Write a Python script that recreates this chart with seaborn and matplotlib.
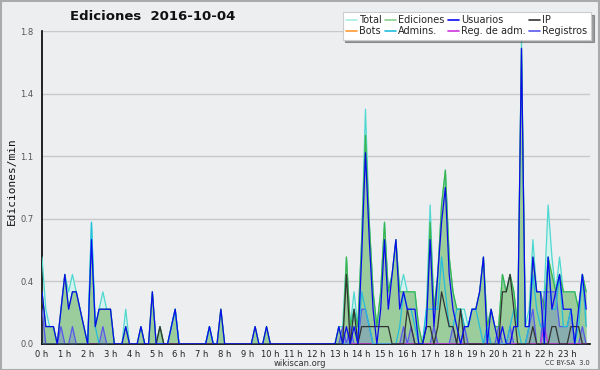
import numpy as np
import pandas as pd
import matplotlib
matplotlib.use("Agg")
import matplotlib.pyplot as plt
import seaborn as sns
from matplotlib.lines import Line2D

# edits per minute, one value per 10-minute slot, one row per hour (0 h .. 23 h)
total = [
    0.5, 0.2, 0.1, 0.1, 0.0, 0.2,
    0.4, 0.3, 0.4, 0.3, 0.2, 0.1,
    0.0, 0.7, 0.1, 0.2, 0.3, 0.2,
    0.2, 0.0, 0.0, 0.0, 0.2, 0.0,
    0.0, 0.0, 0.1, 0.0, 0.0, 0.3,
    0.0, 0.1, 0.0, 0.0, 0.1, 0.2,
    0.0, 0.0, 0.0, 0.0, 0.0, 0.0,
    0.0, 0.0, 0.1, 0.0, 0.0, 0.2,
    0.0, 0.0, 0.0, 0.0, 0.0, 0.0,
    0.0, 0.0, 0.1, 0.0, 0.0, 0.1,
    0.0, 0.0, 0.0, 0.0, 0.0, 0.0,
    0.0, 0.0, 0.0, 0.0, 0.0, 0.0,
    0.0, 0.0, 0.0, 0.0, 0.0, 0.0,
    0.1, 0.1, 0.5, 0.1, 0.3, 0.1,
    0.6, 1.35, 0.7, 0.3, 0.1, 0.3,
    0.7, 0.3, 0.4, 0.6, 0.3, 0.4,
    0.3, 0.3, 0.3, 0.0, 0.0, 0.2,
    0.8, 0.2, 0.4, 0.8, 1.0, 0.5,
    0.3, 0.2, 0.2, 0.2, 0.1, 0.2,
    0.2, 0.3, 0.5, 0.1, 0.2, 0.1,
    0.1, 0.4, 0.3, 0.4, 0.3, 0.1,
    1.75, 0.1, 0.2, 0.6, 0.3, 0.3,
    0.3, 0.8, 0.5, 0.3, 0.5, 0.3,
    0.3, 0.3, 0.3, 0.2, 0.4, 0.3,
]
ediciones = [
    0.3, 0.1, 0.1, 0.1, 0.0, 0.2,
    0.4, 0.2, 0.3, 0.3, 0.2, 0.1,
    0.0, 0.6, 0.1, 0.2, 0.2, 0.2,
    0.2, 0.0, 0.0, 0.0, 0.1, 0.0,
    0.0, 0.0, 0.1, 0.0, 0.0, 0.3,
    0.0, 0.1, 0.0, 0.0, 0.1, 0.2,
    0.0, 0.0, 0.0, 0.0, 0.0, 0.0,
    0.0, 0.0, 0.1, 0.0, 0.0, 0.2,
    0.0, 0.0, 0.0, 0.0, 0.0, 0.0,
    0.0, 0.0, 0.1, 0.0, 0.0, 0.1,
    0.0, 0.0, 0.0, 0.0, 0.0, 0.0,
    0.0, 0.0, 0.0, 0.0, 0.0, 0.0,
    0.0, 0.0, 0.0, 0.0, 0.0, 0.0,
    0.1, 0.0, 0.5, 0.1, 0.2, 0.1,
    0.6, 1.2, 0.7, 0.3, 0.1, 0.3,
    0.7, 0.3, 0.4, 0.6, 0.3, 0.3,
    0.3, 0.3, 0.3, 0.1, 0.0, 0.1,
    0.7, 0.2, 0.4, 0.8, 1.0, 0.5,
    0.3, 0.2, 0.2, 0.1, 0.1, 0.2,
    0.2, 0.3, 0.5, 0.1, 0.2, 0.1,
    0.1, 0.4, 0.3, 0.4, 0.3, 0.1,
    1.7, 0.1, 0.1, 0.5, 0.3, 0.3,
    0.2, 0.5, 0.4, 0.3, 0.4, 0.3,
    0.3, 0.3, 0.3, 0.2, 0.4, 0.3,
]
usuarios = [
    0.3, 0.1, 0.1, 0.1, 0.0, 0.2,
    0.4, 0.2, 0.3, 0.3, 0.2, 0.1,
    0.0, 0.6, 0.1, 0.2, 0.2, 0.2,
    0.2, 0.0, 0.0, 0.0, 0.1, 0.0,
    0.0, 0.0, 0.1, 0.0, 0.0, 0.3,
    0.0, 0.0, 0.0, 0.0, 0.1, 0.2,
    0.0, 0.0, 0.0, 0.0, 0.0, 0.0,
    0.0, 0.0, 0.1, 0.0, 0.0, 0.2,
    0.0, 0.0, 0.0, 0.0, 0.0, 0.0,
    0.0, 0.0, 0.1, 0.0, 0.0, 0.1,
    0.0, 0.0, 0.0, 0.0, 0.0, 0.0,
    0.0, 0.0, 0.0, 0.0, 0.0, 0.0,
    0.0, 0.0, 0.0, 0.0, 0.0, 0.0,
    0.1, 0.0, 0.1, 0.0, 0.1, 0.0,
    0.5, 1.1, 0.6, 0.2, 0.0, 0.2,
    0.6, 0.2, 0.4, 0.6, 0.2, 0.3,
    0.2, 0.2, 0.2, 0.0, 0.0, 0.1,
    0.6, 0.1, 0.4, 0.7, 0.9, 0.4,
    0.2, 0.1, 0.0, 0.1, 0.1, 0.2,
    0.2, 0.3, 0.5, 0.0, 0.2, 0.1,
    0.0, 0.1, 0.0, 0.0, 0.1, 0.1,
    1.7, 0.1, 0.1, 0.5, 0.3, 0.3,
    0.0, 0.5, 0.2, 0.3, 0.4, 0.2,
    0.2, 0.2, 0.0, 0.2, 0.4, 0.2,
]
ip = [
    0.0, 0.0, 0.0, 0.0, 0.0, 0.0,
    0.0, 0.0, 0.0, 0.0, 0.0, 0.0,
    0.0, 0.0, 0.0, 0.0, 0.0, 0.0,
    0.0, 0.0, 0.0, 0.0, 0.0, 0.0,
    0.0, 0.0, 0.0, 0.0, 0.0, 0.0,
    0.0, 0.1, 0.0, 0.0, 0.0, 0.0,
    0.0, 0.0, 0.0, 0.0, 0.0, 0.0,
    0.0, 0.0, 0.0, 0.0, 0.0, 0.0,
    0.0, 0.0, 0.0, 0.0, 0.0, 0.0,
    0.0, 0.0, 0.0, 0.0, 0.0, 0.0,
    0.0, 0.0, 0.0, 0.0, 0.0, 0.0,
    0.0, 0.0, 0.0, 0.0, 0.0, 0.0,
    0.0, 0.0, 0.0, 0.0, 0.0, 0.0,
    0.0, 0.0, 0.4, 0.0, 0.2, 0.0,
    0.1, 0.1, 0.1, 0.1, 0.1, 0.1,
    0.1, 0.1, 0.0, 0.0, 0.0, 0.0,
    0.2, 0.1, 0.0, 0.0, 0.0, 0.1,
    0.1, 0.0, 0.1, 0.3, 0.2, 0.1,
    0.1, 0.0, 0.2, 0.0, 0.0, 0.0,
    0.0, 0.0, 0.0, 0.0, 0.0, 0.0,
    0.0, 0.3, 0.3, 0.4, 0.2, 0.0,
    0.0, 0.0, 0.0, 0.1, 0.0, 0.0,
    0.0, 0.0, 0.1, 0.1, 0.0, 0.0,
    0.0, 0.1, 0.1, 0.1, 0.0, 0.0,
]
admins = [
    0.0, 0.0, 0.0, 0.0, 0.0, 0.0,
    0.0, 0.0, 0.0, 0.0, 0.0, 0.0,
    0.0, 0.7, 0.1, 0.0, 0.0, 0.0,
    0.0, 0.0, 0.0, 0.0, 0.0, 0.0,
    0.0, 0.0, 0.0, 0.0, 0.0, 0.0,
    0.0, 0.0, 0.0, 0.0, 0.1, 0.2,
    0.0, 0.0, 0.0, 0.0, 0.0, 0.0,
    0.0, 0.0, 0.1, 0.0, 0.0, 0.0,
    0.0, 0.0, 0.0, 0.0, 0.0, 0.0,
    0.0, 0.0, 0.0, 0.0, 0.0, 0.0,
    0.0, 0.0, 0.0, 0.0, 0.0, 0.0,
    0.0, 0.0, 0.0, 0.0, 0.0, 0.0,
    0.0, 0.0, 0.0, 0.0, 0.0, 0.0,
    0.0, 0.0, 0.0, 0.0, 0.2, 0.0,
    0.3, 0.2, 0.1, 0.0, 0.0, 0.0,
    0.0, 0.0, 0.0, 0.0, 0.1, 0.3,
    0.2, 0.2, 0.1, 0.0, 0.0, 0.2,
    0.2, 0.2, 0.2, 0.5, 0.3, 0.1,
    0.1, 0.2, 0.2, 0.1, 0.1, 0.2,
    0.2, 0.1, 0.0, 0.1, 0.0, 0.0,
    0.0, 0.0, 0.0, 0.1, 0.2, 0.1,
    0.0, 0.0, 0.1, 0.4, 0.2, 0.1,
    0.1, 0.5, 0.2, 0.2, 0.4, 0.1,
    0.1, 0.2, 0.0, 0.1, 0.4, 0.1,
]
registros = [
    0.2, 0.0, 0.0, 0.0, 0.0, 0.1,
    0.0, 0.0, 0.1, 0.0, 0.0, 0.0,
    0.0, 0.0, 0.0, 0.0, 0.1, 0.0,
    0.0, 0.0, 0.0, 0.0, 0.0, 0.0,
    0.0, 0.0, 0.0, 0.0, 0.0, 0.0,
    0.0, 0.0, 0.0, 0.0, 0.0, 0.0,
    0.0, 0.0, 0.0, 0.0, 0.0, 0.0,
    0.0, 0.0, 0.0, 0.0, 0.0, 0.0,
    0.0, 0.0, 0.0, 0.0, 0.0, 0.0,
    0.0, 0.0, 0.0, 0.0, 0.0, 0.0,
    0.0, 0.0, 0.0, 0.0, 0.0, 0.0,
    0.0, 0.0, 0.0, 0.0, 0.0, 0.0,
    0.0, 0.0, 0.0, 0.0, 0.0, 0.0,
    0.0, 0.1, 0.0, 0.1, 0.0, 0.0,
    0.2, 0.2, 0.1, 0.0, 0.0, 0.0,
    0.0, 0.0, 0.0, 0.0, 0.0, 0.1,
    0.0, 0.1, 0.0, 0.0, 0.0, 0.0,
    0.0, 0.1, 0.0, 0.0, 0.0, 0.0,
    0.1, 0.0, 0.0, 0.1, 0.0, 0.0,
    0.0, 0.0, 0.0, 0.1, 0.0, 0.0,
    0.1, 0.0, 0.0, 0.1, 0.0, 0.0,
    0.0, 0.0, 0.1, 0.2, 0.0, 0.0,
    0.3, 0.3, 0.3, 0.3, 0.1, 0.1,
    0.1, 0.2, 0.0, 0.0, 0.1, 0.0,
]
reg_adm = [
    0.0, 0.0, 0.0, 0.0, 0.0, 0.0,
    0.0, 0.0, 0.0, 0.0, 0.0, 0.0,
    0.0, 0.0, 0.0, 0.0, 0.0, 0.0,
    0.0, 0.0, 0.0, 0.0, 0.0, 0.0,
    0.0, 0.0, 0.0, 0.0, 0.0, 0.0,
    0.0, 0.0, 0.0, 0.0, 0.0, 0.0,
    0.0, 0.0, 0.0, 0.0, 0.0, 0.0,
    0.0, 0.0, 0.0, 0.0, 0.0, 0.0,
    0.0, 0.0, 0.0, 0.0, 0.0, 0.0,
    0.0, 0.0, 0.0, 0.0, 0.0, 0.0,
    0.0, 0.0, 0.0, 0.0, 0.0, 0.0,
    0.0, 0.0, 0.0, 0.0, 0.0, 0.0,
    0.0, 0.0, 0.0, 0.0, 0.0, 0.0,
    0.0, 0.0, 0.0, 0.0, 0.0, 0.0,
    0.0, 0.0, 0.0, 0.0, 0.0, 0.0,
    0.0, 0.0, 0.0, 0.0, 0.0, 0.0,
    0.0, 0.0, 0.0, 0.0, 0.0, 0.0,
    0.0, 0.0, 0.0, 0.0, 0.0, 0.0,
    0.0, 0.0, 0.0, 0.0, 0.0, 0.0,
    0.0, 0.0, 0.0, 0.0, 0.0, 0.0,
    0.0, 0.0, 0.0, 0.0, 0.0, 0.0,
    0.0, 0.0, 0.0, 0.0, 0.0, 0.0,
    0.1, 0.0, 0.0, 0.0, 0.0, 0.0,
    0.0, 0.0, 0.0, 0.0, 0.0, 0.0,
]
bots = [0.0] * 144  # no bot edits that day

hours = np.arange(144) / 6  # 10-minute slots
hour_labels = [f"{h} h" for h in range(24)]
ytick_vals = [0, 0.36, 0.72, 1.08, 1.44, 1.8]
ytick_labels = ["0.0", "0.4", "0.7", "1.1", "1.4", "1.8"]

colors = {
    "Total": "#4fd8d0",
    "Ediciones": "#3cb44b",
    "Usuarios": "#0a0aee",
    "IP": "#333333",
    "Bots": "#ff9933",
    "Admins.": "#22bedc",
    "Reg. de adm.": "#cc33dd",
    "Registros": "#5858ea",
}
legend_colors = dict(colors, Total="#a8ece4", Ediciones="#88d08e")

series = {
    "Total": total, "Ediciones": ediciones, "Registros": registros,
    "Bots": bots, "Reg. de adm.": reg_adm, "Admins.": admins,
    "IP": ip, "Usuarios": usuarios,
}
df = pd.concat(
    [pd.DataFrame({"hour": hours, "value": v, "serie": k}) for k, v in series.items()],
    ignore_index=True,
)

sns.set_theme(style="white")
plt.rcParams["font.family"] = ["DejaVu Sans"]

bg = "#edeef0"
fig = plt.figure(figsize=(6, 3.7), dpi=100, facecolor=bg)
ax = fig.add_axes([0.07, 0.0703, 0.9133, 0.8459])
ax.set_facecolor(bg)

# filled areas
ax.fill_between(hours, total, color="#d4f2ee", zorder=1, lw=0)
ax.fill_between(hours, ediciones, color="#9bcc9c", zorder=2, lw=0)
ax.fill_between(hours, registros, color="#6a78d8", alpha=0.35, zorder=3, lw=0)

sns.lineplot(data=df, x="hour", y="value", hue="serie", hue_order=list(series.keys()),
             palette=colors, linewidth=0.9, legend=False, ax=ax, zorder=4)

ax.set_xlim(0, 24)
ax.set_ylim(0, 1.8)
ax.set_xticks(range(24))
ax.set_xticklabels(hour_labels, fontsize=6, color="#222222")
ax.set_xticks(hours, minor=True)
ax.set_yticks(ytick_vals)
ax.set_yticklabels(ytick_labels, fontsize=6, color="#555555")
ax.set_yticks([0.18, 0.54, 0.9, 1.26, 1.62], minor=True)
ax.tick_params(axis="x", which="both", direction="out", length=4, width=1, color="black", pad=0.5)
ax.tick_params(axis="y", which="major", direction="out", length=5, width=1, color="black", pad=1)
ax.tick_params(axis="y", which="minor", direction="out", length=4, width=1, color="black")
ax.grid(axis="y", which="major", color="#c8c8cc", linewidth=1)
ax.set_axisbelow(True)
for s in ["top", "right"]:
    ax.spines[s].set_visible(False)
ax.spines["left"].set_color("black")
ax.spines["bottom"].set_color("black")
ax.spines["left"].set_linewidth(1.2)
ax.spines["bottom"].set_linewidth(1.2)
ax.set_xlabel("")
ax.set_ylabel("")

fig.text(0.255, 0.955, "Ediciones  2016-10-04", fontsize=9.5, fontweight="bold",
         ha="center", va="center", color="#111111")
fig.text(0.02, 0.51, "Ediciones/min", rotation=90, fontsize=8, family="DejaVu Sans Mono",
         ha="center", va="center", color="#111111")
fig.text(0.5, 0.018, "wikiscan.org", fontsize=6, ha="center", va="center", color="#333333")
fig.text(0.983, 0.018, "CC BY-SA  3.0", fontsize=4.8, ha="right", va="center", color="#333333")

order = ["Total", "Bots", "Ediciones", "Admins.", "Usuarios", "Reg. de adm.", "IP", "Registros"]
handles = [Line2D([], [], color=legend_colors[k], lw=1.2) for k in order]
leg = fig.legend(handles, order, ncol=4, loc="upper right", bbox_to_anchor=(0.985, 0.968),
                 fontsize=7, frameon=True, fancybox=False, shadow=True,
                 handlelength=1.1, handletextpad=0.25, columnspacing=0.35,
                 labelspacing=0.1, borderpad=0.35, borderaxespad=0)
leg.get_frame().set_edgecolor("#cccccc")
leg.get_frame().set_facecolor("white")
leg.get_frame().set_linewidth(0.8)

# outer frame of the image
fig.patches.append(plt.Rectangle((0.001, 0.001), 0.997, 0.997, transform=fig.transFigure,
                                 fill=False, edgecolor="#aaaaaa", lw=1.5))

fig.savefig("out.png", dpi=100, facecolor=bg)
